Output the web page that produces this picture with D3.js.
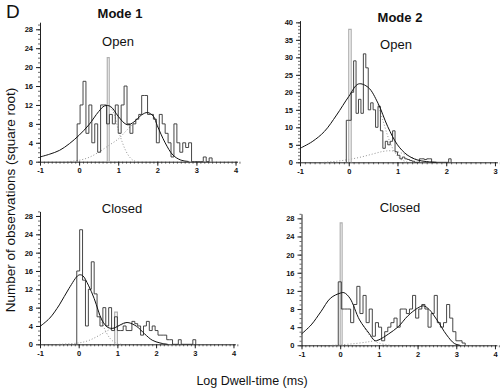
<!DOCTYPE html>
<html><head><meta charset="utf-8">
<script src="https://cdn.jsdelivr.net/npm/d3@7"></script>
<style>body{margin:0;background:#fff} svg{display:block}</style>
</head><body><svg width="500" height="390"></svg>
<script>
// ---------------- data ----------------
const figureLetter = "D";
const modeTitles = ["Mode 1", "Mode 2"];
const stateLabels = ["Open", "Open", "Closed", "Closed"];
const yAxisTitle = "Number of observations (square root)";
const xAxisTitle = "Log Dwell-time (ms)";

const xTicks5 = [-1, 0, 1, 2, 3, 4];
const xTicks4 = [-1, 0, 1, 2, 3];
const yTicks28 = [0, 4, 8, 12, 16, 20, 24, 28];
const yTicks40 = [0, 5, 10, 15, 20, 25, 30, 35, 40];

// Mode 1 - Open
const m1OpenBinStart = -0.05, m1OpenBinWidth = 0.075;
const m1OpenCounts = [8,12,17,6,12,4,8,2,12,12,8,10,8,12,6,12,16,8,6,8,9,10,14,14,10,10,9,4,10,8,6,4,1,8,4,2,4,3,4,0,0,0,0,1,0,0.8];
const m1OpenGray = [[0.72, 0.77, 22]];
const m1OpenFit = [[-1,1.0],[-0.75,1.6],[-0.5,2.4],[-0.25,3.8],[0,5.6],[0.25,7.8],[0.5,10.6],[0.65,11.8],[0.8,11.7],[1.0,9.6],[1.15,8.2],[1.25,7.8],[1.4,8.4],[1.6,9.9],[1.75,10.4],[1.9,9.6],[2.0,7.6],[2.2,4.0],[2.4,1.4],[2.6,0.35],[2.8,0.05]];
const m1OpenComp1 = [[0.8,11.6],[0.9,10],[1.0,6.8],[1.1,4.2],[1.2,2.2],[1.3,0.9],[1.4,0.2],[1.5,0]];
const m1OpenComp2 = [[-0.3,0],[0,0.3],[0.25,0.9],[0.5,2.0],[0.75,3.4],[1.0,4.8],[1.2,6.5],[1.4,8.2],[1.5,9.0]];

// Mode 2 - Open
const m2OpenBinStart = -0.05, m2OpenBinWidth = 0.05;
const m2OpenCounts = [12,12,20,29,14,18,14,31,27,15,17,15,10,16,9,4,6,5,6,9,3,2,1,1.5,1,0.8,0.5,0.3,0,0,1,1,0.8,1,1,0,0,0,0,0,0,0,1];
const m2OpenGray = [[0.0, 0.05, 38]];
const m2OpenFit = [[-1,4.0],[-0.75,5.9],[-0.5,8.8],[-0.25,13.5],[0,18.8],[0.2,22.4],[0.4,21.4],[0.6,16.9],[0.8,10.2],[1.0,5.0],[1.2,2.1],[1.4,0.7],[1.6,0.2],[1.8,0]];
const m2OpenComp1 = [[0.6,16.5],[0.7,12],[0.8,7.5],[0.9,4],[1.0,1.8],[1.1,0.6],[1.2,0.1]];
const m2OpenComp2 = [[-0.5,0],[-0.25,0.3],[0,0.8],[0.25,1.5],[0.5,2.4],[0.7,3.1],[0.85,3.3],[1.0,3.0],[1.2,2.0],[1.4,0.7]];

// Mode 1 - Closed
const m1ClosedBinStart = -0.05, m1ClosedBinWidth = 0.075;
const m1ClosedCounts = [16,25,14,4,12,18,11,6,4,8,4,8,3,6,3,3,4,3,3,5,4.5,4,2,4,5,3,4,3,2,2,2,1,1,0,0,1,0,0,0,0,1];
const m1ClosedGray = [[0.93, 1.0, 7]];
const m1ClosedFit = [[-1,3.9],[-0.75,5.7],[-0.5,8.6],[-0.25,12.2],[0,15.1],[0.1,15.0],[0.25,12.9],[0.4,10],[0.5,7.5],[0.6,5.3],[0.75,3.7],[0.9,3.5],[1.0,3.9],[1.2,4.7],[1.3,4.7],[1.5,3.9],[1.7,2.3],[1.9,0.9],[2.1,0.3],[2.3,0]];
const m1ClosedComp1 = [[0.5,7.3],[0.6,4.8],[0.7,2.8],[0.8,1.4],[0.9,0.6],[1.0,0.2],[1.1,0]];
const m1ClosedComp2 = [[-0.5,0],[0,0.3],[0.25,0.8],[0.5,1.8],[0.75,3.0],[1.0,3.9],[1.25,4.7]];

// Mode 2 - Closed
const m2ClosedBinStart = -0.05, m2ClosedBinWidth = 0.08;
const m2ClosedCounts = [14,8,8,8,5,9,13,7,11,5,8,2,5,4,1,3,4,5,6,4,8,8,7,8,11,6,8,9,8,4,7,11,5,4,5,9,6,3,1,1,0.5];
const m2ClosedGray = [[0.0, 0.05, 27]];
const m2ClosedFit = [[-1,2.5],[-0.75,4.5],[-0.5,7.4],[-0.25,10.4],[0,11.5],[0.1,11.6],[0.25,10.4],[0.5,5.6],[0.75,2.6],[0.9,1.0],[1.0,1.2],[1.25,2.5],[1.5,4.1],[1.75,6.5],[2.0,8.2],[2.15,8.7],[2.3,7.9],[2.5,5.6],[2.75,2.3],[2.95,0.4],[3.1,0]];
const m2ClosedComp1 = [[0.6,4.2],[0.75,2.3],[0.9,0.9],[1.0,0.5],[1.2,0.1],[1.3,0]];
const m2ClosedComp2 = [[-0.2,0],[0,0.1],[0.4,0.4],[0.75,0.8],[1.0,1.2]];

// ---------------- layout ----------------
const panels = [
  {start:m1OpenBinStart, width:m1OpenBinWidth, counts:m1OpenCounts, gray:m1OpenGray, fit:m1OpenFit, c1:m1OpenComp1, c2:m1OpenComp2,
   xTicks:xTicks5, yTicks:yTicks28, xDom:[-1,4.05], xR:[40,237.5], yDom:[0,29.5], yR:[161.7,22.2], label:stateLabels[0], lx:118, ly:46},
  {start:m2OpenBinStart, width:m2OpenBinWidth, counts:m2OpenCounts, gray:m2OpenGray, fit:m2OpenFit, c1:m2OpenComp1, c2:m2OpenComp2,
   xTicks:xTicks4, yTicks:yTicks40, xDom:[-1,3.05], xR:[300,497.4], yDom:[0,40.5], yR:[162.3,20.6], label:stateLabels[1], lx:396, ly:49},
  {start:m1ClosedBinStart, width:m1ClosedBinWidth, counts:m1ClosedCounts, gray:m1ClosedGray, fit:m1ClosedFit, c1:m1ClosedComp1, c2:m1ClosedComp2,
   xTicks:xTicks5, yTicks:yTicks28, xDom:[-1,4.05], xR:[40,235.4], yDom:[0,29], yR:[344.3,211.4], label:stateLabels[2], lx:122, ly:213},
  {start:m2ClosedBinStart, width:m2ClosedBinWidth, counts:m2ClosedCounts, gray:m2ClosedGray, fit:m2ClosedFit, c1:m2ClosedComp1, c2:m2ClosedComp2,
   xTicks:xTicks5, yTicks:yTicks28, xDom:[-1,4.05], xR:[301.5,496.9], yDom:[0,29], yR:[345.3,213.8], label:stateLabels[3], lx:400, ly:212}
];

const svg = d3.select("svg");
const FONT = "'Liberation Sans', Arial, sans-serif";

panels.forEach(p => {
  const x = d3.scaleLinear().domain(p.xDom).range(p.xR);
  const y = d3.scaleLinear().domain(p.yDom).range(p.yR);
  const g = svg.append("g");

  // minor ticks
  const xMinor = d3.range(Math.round(p.xDom[0]*10), Math.round(p.xDom[1]*10)+1).map(v => v/10);
  const yStep = p.yTicks[1]-p.yTicks[0] === 5 ? 1 : 1;
  const yMinor = d3.range(p.yDom[0], p.yDom[1]+0.001, yStep);
  const xAxisMinor = g.append("g").attr("transform", `translate(0,${p.yR[0]})`)
    .call(d3.axisBottom(x).tickValues(xMinor).tickSize(2).tickSizeOuter(0).tickFormat(""));
  const yAxisMinor = g.append("g").attr("transform", `translate(${p.xR[0]},0)`)
    .call(d3.axisLeft(y).tickValues(yMinor).tickSize(2).tickSizeOuter(0).tickFormat(""));
  [xAxisMinor, yAxisMinor].forEach(a => { a.select(".domain").remove(); a.selectAll("line").attr("stroke","#444").attr("stroke-width",0.8); });

  const xa = g.append("g").attr("transform", `translate(0,${p.yR[0]})`)
    .call(d3.axisBottom(x).tickValues(p.xTicks).tickSize(4).tickSizeOuter(0).tickPadding(2).tickFormat(d => String(d)));
  const ya = g.append("g").attr("transform", `translate(${p.xR[0]},0)`)
    .call(d3.axisLeft(y).tickValues(p.yTicks).tickSize(4).tickSizeOuter(0).tickPadding(3).tickFormat(d => String(d)));
  [xa, ya].forEach(a => {
    a.select(".domain").attr("stroke","#222").attr("stroke-width",1);
    a.selectAll("line").attr("stroke","#222");
    a.selectAll("text").attr("font-family",FONT).attr("font-size",7.5).attr("font-weight","bold").attr("fill","#111");
  });

  // dotted component curves
  const line = d3.line().x(d => x(d[0])).y(d => y(d[1])).curve(d3.curveCatmullRom);
  [p.c1, p.c2].forEach(c => {
    g.append("path").attr("d", line(c)).attr("fill","none").attr("stroke","#888")
      .attr("stroke-width",0.9).attr("stroke-dasharray","1,2");
  });

  // gray spikes
  p.gray.forEach(b => {
    g.append("path").attr("d", d3.line()([[x(b[0]),y(0)],[x(b[0]),y(b[2])],[x(b[1]),y(b[2])],[x(b[1]),y(0)]]))
      .attr("fill","none").attr("stroke","#b0b0b0").attr("stroke-width",1.2);
  });

  // histogram step line
  const pts = [[p.start, 0]];
  p.counts.forEach((c, i) => pts.push([p.start + i*p.width, c]));
  pts.push([p.start + p.counts.length*p.width, 0]);
  const step = d3.line().x(d => x(d[0])).y(d => y(d[1])).curve(d3.curveStepAfter);
  g.append("path").attr("d", step(pts)).attr("fill","none").attr("stroke","#333").attr("stroke-width",0.9);

  // fit curve
  g.append("path").attr("d", line(p.fit)).attr("fill","none").attr("stroke","#111").attr("stroke-width",1);

  // state label
  g.append("text").attr("x", p.lx).attr("y", p.ly).attr("text-anchor","middle")
    .attr("font-family",FONT).attr("font-size",13).attr("fill","#111").text(p.label);
});

// titles
svg.append("text").attr("x",6).attr("y",18).attr("font-family",FONT).attr("font-size",19).attr("fill","#111").text(figureLetter);
svg.append("text").attr("x",120).attr("y",18).attr("text-anchor","middle").attr("font-family",FONT)
  .attr("font-size",13).attr("font-weight","bold").attr("fill","#111").text(modeTitles[0]);
svg.append("text").attr("x",400).attr("y",22).attr("text-anchor","middle").attr("font-family",FONT)
  .attr("font-size",13).attr("font-weight","bold").attr("fill","#111").text(modeTitles[1]);
svg.append("text").attr("transform","translate(15,200) rotate(-90)").attr("text-anchor","middle")
  .attr("font-family",FONT).attr("font-size",13.5).attr("fill","#111").text(yAxisTitle);
svg.append("text").attr("x",252).attr("y",385).attr("text-anchor","middle")
  .attr("font-family",FONT).attr("font-size",12.5).attr("fill","#111").text(xAxisTitle);
</script></body></html>
